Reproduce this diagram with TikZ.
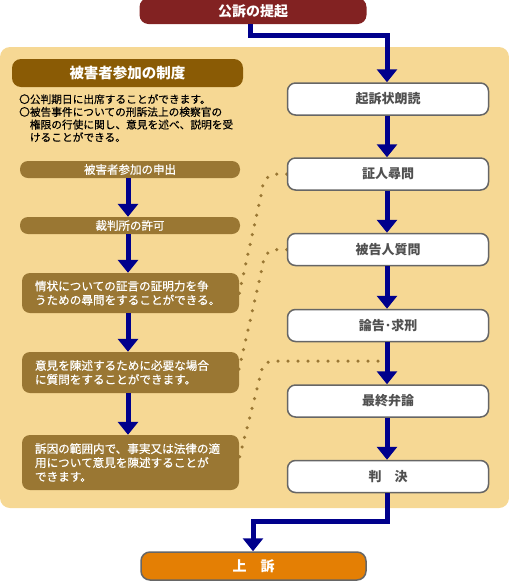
\documentclass[tikz,border=0pt]{standalone}
\usepackage{fontspec}
\setmainfont{Noto Sans CJK JP}
\newfontfamily\jpmed{Noto Sans CJK JP}[FakeBold=0.6]
\newfontfamily\jplight{Noto Sans CJK JP}[FakeBold=0.3]
\usetikzlibrary{arrows.meta,calc}
\definecolor{panelc}{HTML}{F6D894}
\definecolor{titlec}{HTML}{8A5B05}
\definecolor{leftc}{HTML}{9A7733}
\definecolor{redc}{HTML}{822222}
\definecolor{orangec}{HTML}{E47F04}
\definecolor{navyc}{HTML}{00008C}
\definecolor{rborder}{HTML}{666666}
\definecolor{rtext}{HTML}{505050}
\pgfdeclarelayer{bg}
\pgfsetlayers{bg,main}
\begin{document}
\begin{tikzpicture}[x=1pt,y=1pt,
  rbox/.style={draw=rborder, line width=1.5pt, fill=white, rounded corners=8pt,
    minimum width=201pt, minimum height=32pt, inner sep=0pt, text=rtext,
    font=\bfseries\fontsize{13}{13}\selectfont},
  topbox/.style={rounded corners=9pt, inner sep=0pt, text=white,
    font=\bfseries\fontsize{14}{14}\selectfont},
  titlebox/.style={fill=titlec, rounded corners=9pt, inner sep=0pt, text=white,
    minimum width=231pt, minimum height=28pt, font=\bfseries\fontsize{14.5}{14.5}\selectfont},
  lbox/.style={fill=leftc, rounded corners=8pt, inner sep=0pt, text=white,
    minimum width=220pt, minimum height=17pt, font=\jpmed\fontsize{11.5}{12}\selectfont},
  lnote/.style={fill=leftc, rounded corners=8pt, inner ysep=0pt, inner xsep=13pt, text=white,
    text width=191pt, align=left, font=\jpmed\fontsize{11.6}{14}\selectfont},
  conn/.style={draw=navyc, line width=5pt, line join=miter,
    -{Triangle[width=20pt,length=13pt]}},
  dotline/.style={draw=leftc, line width=3.5pt, line cap=round, dash pattern=on 0pt off 10pt}
]
\useasboundingbox (0,0) rectangle (509,-582);

% main flow
\node[topbox, fill=redc, minimum width=227pt, minimum height=26pt] (kouso) at (253,-11) {公訴の提起};
\node[rbox] (k1) at (388,-99) {起訴状朗読};
\node[rbox] (k2) at (388,-174) {証人尋問};
\node[rbox] (k3) at (388,-249.5) {被告人質問};
\node[rbox] (k4) at (388,-325.5) {論告･求刑};
\node[rbox] (k5) at (388,-401) {最終弁論};
\node[rbox] (k6) at (388,-476.5) {判　決};
\node[topbox, fill=orangec, draw=rborder, line width=1.5pt, minimum width=225pt, minimum height=28pt] (jouso) at (253.5,-566) {上　訴};

% left side
\node[titlebox] (title) at (127.5,-73) {被害者参加の制度};
\node[anchor=north west, align=left, inner sep=0pt, font=\jplight\fontsize{10.7}{12.7}\selectfont] (intro) at (19,-94)
  {〇公判期日に出席することができます。\\〇被告事件についての刑訴法上の検察官の\\　権限の行使に関し、意見を述べ、説明を受\\　けることができる。};
\node[lbox] (s1) at (130,-169.5) {被害者参加の申出};
\node[lbox] (s2) at (130,-225.5) {裁判所の許可};
\node[lnote, minimum height=40pt] (s3) at (130.5,-293) {情状についての証言の証明力を争\\うための尋問をすることができる。};
\node[lnote, minimum height=41pt] (s4) at (130.5,-372.5) {意見を陳述するために必要な場合\\に質問をすることができます。};
\node[lnote, minimum height=55pt] (s5) at (130.5,-462.5) {訴因の範囲内で、事実又は法律の適\\用について意見を陳述することが\\できます。};

\coordinate (c5) at ($(k4.south)!0.45!(k5.north)$);

\begin{pgfonlayer}{bg}
  \fill[panelc, rounded corners=10pt] (0,-47) rectangle (509,-508);
  \draw[dotline] (k2.west) -- ([xshift=-11pt]k2.west)
    .. controls ([xshift=-20pt,yshift=-1pt]k2.west) and ([xshift=-24pt,yshift=-6pt]k2.west)
    .. ([xshift=-25pt,yshift=-18pt]k2.west) -- ([xshift=-1pt,yshift=-5pt]s3.east);
  \draw[dotline] (k3.west) -- ([xshift=-11pt]k3.west)
    .. controls ([xshift=-20pt,yshift=-1pt]k3.west) and ([xshift=-23pt,yshift=-7pt]k3.west)
    .. ([xshift=-24pt,yshift=-16pt]k3.west) -- ([xshift=-1pt]s4.east);
  \draw[dotline] (c5) -- ([xshift=-116pt]c5)
    .. controls ([xshift=-123pt,yshift=-1pt]c5) and ([xshift=-126pt,yshift=-5pt]c5)
    .. ([xshift=-127pt,yshift=-12pt]c5) -- ([xshift=-1pt]s5.east);
\end{pgfonlayer}

% connectors
\draw[conn] ([xshift=-3pt]kouso.south) -- ++(0,-11) -| ([xshift=-1pt]k1.north);
\draw[conn] ([xshift=-1pt]k1.south) -- ([xshift=-1pt]k2.north);
\draw[conn] ([xshift=-1pt]k2.south) -- ([xshift=-1pt]k3.north);
\draw[conn] ([xshift=-1pt]k3.south) -- ([xshift=-1pt]k4.north);
\draw[conn] ([xshift=-1pt]k4.south) -- ([xshift=-1pt]k5.north);
\draw[conn] ([xshift=-1pt]k5.south) -- ([xshift=-1pt]k6.north);
\draw[conn] ([xshift=-1pt]k6.south) -- ++(0,-28) -| ([xshift=-0.5pt]jouso.north);
\draw[conn] ([xshift=-2pt]s1.south) -- ([xshift=-2pt]s2.north);
\draw[conn] ([xshift=-2pt]s2.south) -- ([xshift=-2.5pt]s3.north);
\draw[conn] ([xshift=-2.5pt]s3.south) -- ([xshift=-2.5pt]s4.north);
\draw[conn] ([xshift=-2.5pt]s4.south) -- ([xshift=-2.5pt]s5.north);
\end{tikzpicture}
\end{document}
